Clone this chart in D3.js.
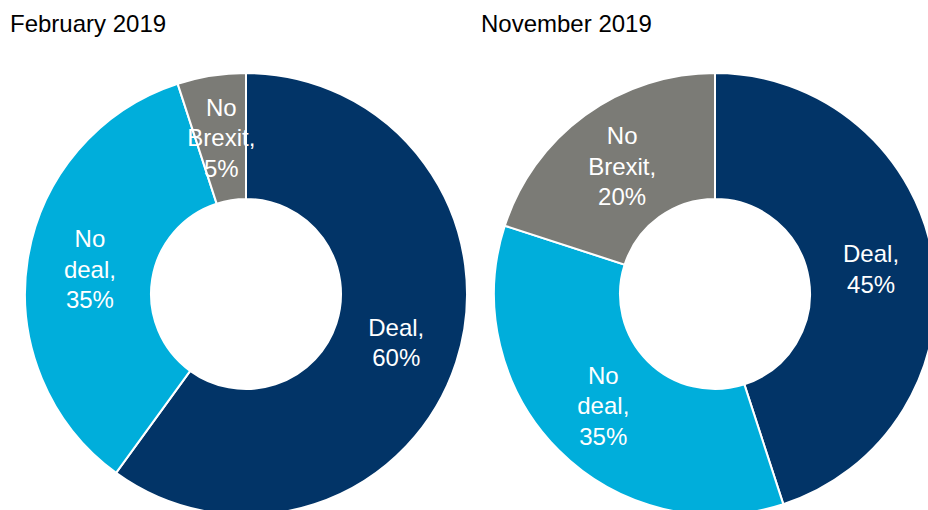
<!DOCTYPE html>
<html>
<head>
<meta charset="utf-8">
<script src="https://cdn.jsdelivr.net/npm/d3@7"></script>
<style>
  html, body { margin: 0; padding: 0; background: #fff; }
  svg { display: block; }
</style>
</head>
<body>
<svg id="chart" width="928" height="510"></svg>
<script>
// Brexit outcome probabilities at two points in time
const periods = ["February 2019", "November 2019"];
const categories = ["Deal", "No deal", "No Brexit"];
const febValues = [60, 35, 5];
const novValues = [45, 35, 20];
const labelLines = [["Deal,"], ["No", "deal,"], ["No", "Brexit,"]];

const colors = d3.scaleOrdinal()
  .domain(categories)
  .range(["#023467", "#00aedb", "#7b7b76"]);

const svg = d3.select("#chart");
const font = "Liberation Sans, Arial, sans-serif";

const outerR = 221, innerR = 95;
const panels = [
  { title: periods[0], values: febValues, cx: 246, cy: 294, tx: 10 },
  { title: periods[1], values: novValues, cx: 715, cy: 294, tx: 481 }
];

const pie = d3.pie().sort(null).value(d => d.value);
const arc = d3.arc().innerRadius(innerR).outerRadius(outerR);

panels.forEach(p => {
  svg.append("text")
    .attr("x", p.tx).attr("y", 32)
    .attr("font-family", font).attr("font-size", 24)
    .attr("fill", "#000")
    .text(p.title);

  const data = categories.map((c, i) => ({ cat: c, value: p.values[i], lines: labelLines[i] }));
  const g = svg.append("g").attr("transform", `translate(${p.cx},${p.cy})`);
  const arcs = pie(data);

  g.selectAll("path").data(arcs).join("path")
    .attr("d", arc)
    .attr("fill", d => colors(d.data.cat))
    .attr("stroke", "#fff")
    .attr("stroke-width", 2);

  const lh = 30.5;
  g.selectAll("text.lbl").data(arcs).join("text")
    .attr("class", "lbl")
    .attr("font-family", font).attr("font-size", 24)
    .attr("fill", "#fff")
    .attr("text-anchor", "middle")
    .each(function(d) {
      const [x, y] = arc.centroid(d);
      const lines = d.data.lines.concat([d.data.value + "%"]);
      const t = d3.select(this);
      const y0 = y - (lines.length - 1) * lh / 2;
      lines.forEach((s, i) => {
        t.append("tspan")
          .attr("x", x)
          .attr("y", y0 + i * lh)
          .attr("dy", "0.35em")
          .text(s);
      });
    });
});
</script>
</body>
</html>
